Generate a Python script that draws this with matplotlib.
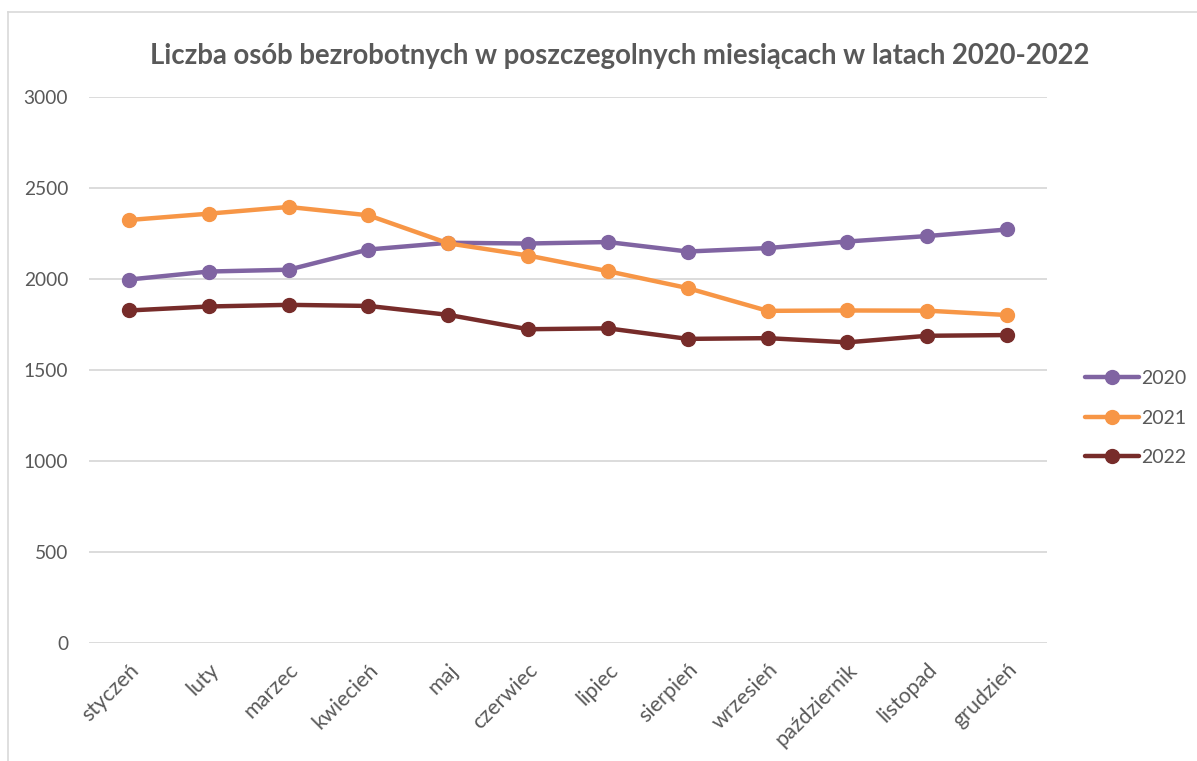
import matplotlib
matplotlib.use("Agg")
import matplotlib.pyplot as plt
from matplotlib.lines import Line2D

months = ["styczeń", "luty", "marzec", "kwiecień", "maj", "czerwiec", "lipiec",
          "sierpień", "wrzesień", "październik", "listopad", "grudzień"]
y2020 = [1997, 2041, 2051, 2162, 2199, 2195, 2203, 2151, 2170, 2206, 2236, 2272]
y2021 = [2324, 2359, 2396, 2350, 2196, 2129, 2043, 1950, 1825, 1827, 1826, 1802]
y2022 = [1827, 1849, 1858, 1852, 1803, 1724, 1729, 1671, 1675, 1652, 1688, 1692]
series = [("2020", y2020, "#8064A2"), ("2021", y2021, "#F79646"), ("2022", y2022, "#772C2A")]
yticks = [0, 500, 1000, 1500, 2000, 2500, 3000]
title = "Liczba osób bezrobotnych w poszczegolnych miesiącach w latach 2020-2022"

plt.rcParams['font.family'] = ['Lato', 'DejaVu Sans']
txt = "#595959"

fig = plt.figure(figsize=(11.97, 7.61), dpi=100)
ax = fig.add_axes([89/1197, 1 - 643/761, (1047-89)/1197, (643-97)/761])

x = list(range(len(months)))
for name, vals, col in series:
    ax.plot(x, vals, color=col, lw=3.2, marker='o', ms=10, label=name, solid_capstyle='round')

ax.set_xlim(-0.5, len(months) - 0.5)
ax.set_ylim(0, 3000)
ax.set_yticks(yticks)
ax.set_yticklabels([str(v) for v in yticks])
ax.set_xticks(x)
ax.set_xticklabels(months, rotation=45, ha='right', va='top', rotation_mode='anchor')
ax.yaxis.grid(True, color="#D9D9D9", lw=1.3)
ax.set_axisbelow(True)
for s in ax.spines.values():
    s.set_visible(False)
ax.tick_params(axis='y', length=0, labelsize=13.8, labelcolor=txt, pad=15)
ax.tick_params(axis='x', length=0, labelsize=15.5, labelcolor=txt, pad=12)

fig.text(620/1197, 1 - 56/761, title, ha='center', va='center', fontsize=19.8,
         fontweight='bold', color=txt)

leg = ax.legend(loc='center left', bbox_to_anchor=(1.032, (643-418)/546),
                frameon=False, fontsize=14, handlelength=2.75, labelspacing=1.15,
                handletextpad=0.1, borderaxespad=0)
for t in leg.get_texts():
    t.set_color(txt)

fig.add_artist(Line2D([8/1197, 1.0], [1 - 12/761, 1 - 12/761], color="#D9D9D9", lw=1.2))
fig.add_artist(Line2D([8/1197, 8/1197], [0, 1 - 12/761], color="#D9D9D9", lw=1.2))

fig.savefig("out.png", dpi=100)
